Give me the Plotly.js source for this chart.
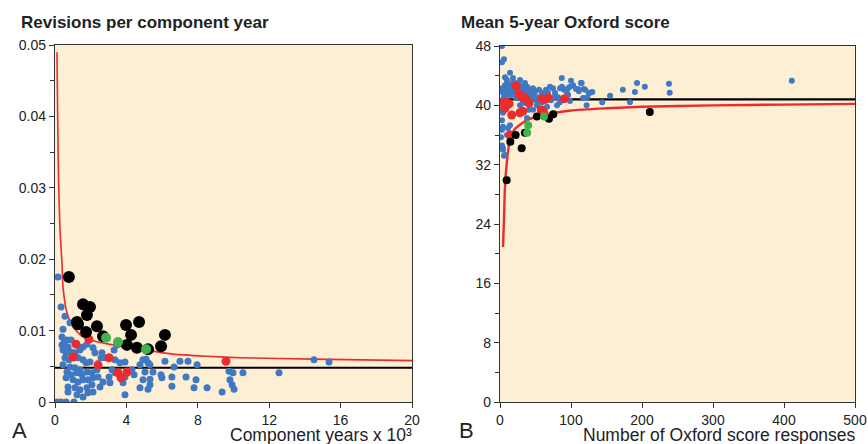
<!DOCTYPE html>
<html>
<head>
<meta charset="utf-8">
<script src="https://cdn.plot.ly/plotly-3.0.1.min.js"></script>
<style>html,body{margin:0;padding:0;background:#fff;}#chart{width:868px;height:444px;}</style>
</head>
<body>
<div id="chart"></div>
<script>
// ---------- Panel A: revisions per component year vs component years (x10^3) ----------
const aBlueX = [0.17,0.34,0.56,0.84,0.45,0.39,0.67,0.50,0.73,0.45,0.90,0.62,1.12,1.40,1.57,1.79,2.13,2.24,2.63,0.56,0.78,1.29,1.57,1.74,1.96,2.80,3.36,3.64,0.45,0.84,1.12,1.40,0.67,0.90,1.23,1.51,1.79,2.07,2.35,3.19,3.36,0.62,1.01,1.29,1.57,1.85,2.13,2.41,2.69,3.03,0.73,1.12,1.40,1.79,2.07,2.52,3.08,1.23,1.57,1.85,2.13,0.11,0.34,0.62,1.06,3.81,3.92,3.92,4.31,4.43,4.76,4.93,5.21,5.32,5.04,5.49,4.93,5.32,5.32,5.21,4.76,5.99,5.94,6.16,6.67,6.55,6.55,7.00,7.45,7.96,7.34,7.90,7.79,8.52,9.36,9.75,9.97,9.80,9.92,10.03,10.53,12.55,14.51,15.35,3.92,0.73,0.39,0.90,3.31,3.47,5.10,2.58];
const aBlueY = [0.0175,0.0133,0.0120,0.0111,0.0102,0.0091,0.0087,0.0083,0.0077,0.0073,0.0070,0.0069,0.0069,0.0073,0.0077,0.0081,0.0076,0.0069,0.0069,0.0062,0.0059,0.0062,0.0059,0.0055,0.0056,0.0062,0.0059,0.0055,0.0052,0.0049,0.0048,0.0045,0.0042,0.0038,0.0041,0.0038,0.0042,0.0041,0.0045,0.0045,0.0041,0.0034,0.0031,0.0028,0.0031,0.0031,0.0034,0.0035,0.0028,0.0035,0.0021,0.0020,0.0017,0.0020,0.0024,0.0021,0.0027,0.0010,0.0007,0.0013,0.0014,0,0,0,0,0.0027,0.0035,0.0056,0.0045,0.0038,0.0052,0.0059,0.0055,0.0052,0.0042,0.0042,0.0031,0.0032,0.0024,0.0018,0.0020,0.0034,0.0038,0.0057,0.0049,0.0035,0.0022,0.0057,0.0057,0.0052,0.0035,0.0031,0.0020,0.0020,0.0014,0.0043,0.0041,0.0031,0.0024,0.0018,0.0041,0.0041,0.0059,0.0056,0.0010,0.0014,0.0080,0.0087,0.0073,0.0080,0.0060,0.0062];
const aRedX = [1.18,1.01,1.90,2.41,3.03,3.53,3.70,4.03,9.58];
const aRedY = [0.0081,0.0063,0.0088,0.0052,0.0062,0.0041,0.0034,0.0042,0.0057];
const aBlackX = [0.78,1.57,1.96,1.79,1.23,1.29,1.74,2.35,2.69,3.98,4.71,4.26,4.03,4.59,5.21,5.94,6.16];
const aBlackY = [0.0175,0.0137,0.0133,0.0122,0.0112,0.0109,0.0098,0.0106,0.0092,0.0108,0.0112,0.0094,0.0080,0.0076,0.0074,0.0078,0.0094];
const aGreenX = [2.86,3.53,5.10];
const aGreenY = [0.0090,0.0084,0.0074];
const aMean = 0.0048;
const aLimitX = [0.11,0.15,0.20,0.28,0.39,0.45,0.67,1.01,1.57,2.41,3.25,4.76,6.61,8.52,10.4,14.5,20];
const aLimitY = [0.049,0.040,0.031,0.0241,0.0195,0.0161,0.0125,0.0105,0.0091,0.0084,0.0080,0.0074,0.0067,0.0064,0.0062,0.0060,0.0058];

// ---------- Panel B: mean 5-year Oxford score vs number of responses ----------
const bBlueX = [2.8,2.8,5.6,7.0,14.1,9.9,14.1,18.3,21.1,23.9,28.2,7.0,11.3,18.3,22.5,26.8,32.4,38.0,4.2,9.9,2.8,4.2,2.8,4.2,2.8,14.1,11.3,9.9,1.4,2.8,4.2,7.0,2.8,4.2,5.6,28.2,32.4,35.2,40.8,38.0,46.5,52.1,59.2,66.2,46.5,53.5,59.2,64.8,70.4,74.6,77.5,81.7,84.5,80.3,87.3,90.1,95.8,100,103,110,115,120,125,130,98.6,117,123,144,155,173,183,190,193,87,84.5,98.6,94,96,107,111,114,118,127,122,204,238,239,411,2.8,4.2,5.6,7.0,8.5,9.9,11.3,12.7,15.5,16.9,18.3,19.7,21.1,22.5,25.4,26.8,28.2,29.6,31.0,33.8,35.2,38.0,39.4,42.3,43.7,46.5,49.3,50.7,54.9,56.3,62.0,67.6,71.8,76.1];
const bBlueY = [48.0,45.8,46.2,43.8,44.4,43.0,42.7,43.1,43.0,42.5,42.3,41.8,41.4,41.8,41.7,41.5,41.8,42.5,40.7,40.3,39.4,39.0,38.0,37.1,36.7,37.3,36.9,36.0,35.7,34.4,34.0,33.3,34.6,34.2,33.2,40.0,40.4,40.3,39.4,38.3,39.4,40.0,40.4,39.8,41.4,41.1,41.7,42.1,42.5,42.3,41.7,41.1,40.4,40.0,42.5,42.1,42.3,43.3,42.7,42.2,43.0,42.1,41.7,41.8,40.6,41.0,41.1,40.4,41.3,42.1,40.4,41.8,43.0,43.7,42.3,42.5,41.8,41.4,42.2,41.9,43.0,42.2,41.7,40.0,42.5,42.9,41.7,43.3,42.3,41.7,41.1,42.7,42.1,43.4,42.5,41.8,41.4,42.2,43.7,42.6,41.9,41.0,42.9,42.2,43.4,41.8,42.6,42.1,43.0,41.7,42.3,41.8,41.1,42.3,41.8,40.7,42.1,40.7,41.4,41.7,40.7,41.1];
const bRedX = [22.5,4,9,7,13,16.5,27,32,36,41,28,32,58,61,59,64,68,91,14];
const bRedY = [42.6,40.3,40.4,39.6,40.2,38.7,41.5,41.0,41.0,40.3,39.0,39.2,39.4,39.2,40.9,40.8,41.0,40.9,36.0];
const bBlackX = [9.4,14.6,22,30.5,35,52,69,75,211];
const bBlackY = [29.9,35.1,36.0,34.2,36.3,38.5,38.2,38.8,39.1];
const bGreenX = [39.7,38.3,62];
const bGreenY = [37.3,36.3,38.5];
const bMean = 40.8;
const bLimitX = [4.2,5.6,7,9.9,14,21,38,56,100,150,200,300,400,500];
const bLimitY = [20.9,24.5,29,32.6,35.4,36.8,38.0,38.6,39.3,39.6,39.8,40.0,40.1,40.2];

const BLUE = '#3f79c4', RED = '#ec2c2c', GREEN = '#3db54a', BLACK = '#000000';
const FONT = 'Liberation Sans, Arial, sans-serif';

function pts(x, y, color, size, xa, ya) {
  return {x: x, y: y, type: 'scatter', mode: 'markers', xaxis: xa, yaxis: ya,
          marker: {color: color, size: size, line: {width: 0}}, hoverinfo: 'skip', showlegend: false};
}
function line(x, y, color, width, xa, ya) {
  return {x: x, y: y, type: 'scatter', mode: 'lines', xaxis: xa, yaxis: ya,
          line: {color: color, width: width, shape: 'spline', smoothing: 0.6}, hoverinfo: 'skip', showlegend: false};
}

const traces = [
  line([0, 20], [aMean, aMean], BLACK, 1.8, 'x', 'y'),
  line(aLimitX, aLimitY, RED, 1.6, 'x', 'y'),
  pts(aBlueX, aBlueY, BLUE, 7, 'x', 'y'),
  pts(aRedX, aRedY, RED, 9, 'x', 'y'),
  pts(aBlackX, aBlackY, BLACK, 12, 'x', 'y'),
  pts(aGreenX, aGreenY, GREEN, 10, 'x', 'y'),
  line([0, 500], [bMean, bMean], BLACK, 2.2, 'x2', 'y2'),
  line(bLimitX, bLimitY, RED, 2.4, 'x2', 'y2'),
  pts(bBlueX, bBlueY, BLUE, 6, 'x2', 'y2'),
  pts(bRedX, bRedY, RED, 9, 'x2', 'y2'),
  pts(bBlackX, bBlackY, BLACK, 8, 'x2', 'y2'),
  pts(bGreenX, bGreenY, GREEN, 8, 'x2', 'y2')
];

const W = 868, H = 444;
const axisCommon = {
  showgrid: false, zeroline: false, showline: true, linecolor: '#333', linewidth: 1.2, mirror: true,
  ticks: 'outside', ticklen: 5, tickwidth: 1, tickcolor: '#333',
  tickfont: {family: FONT, size: 14, color: '#222'}, fixedrange: true
};

const layout = {
  width: W, height: H,
  margin: {l: 0, r: 0, t: 0, b: 0},
  paper_bgcolor: '#ffffff', plot_bgcolor: '#fdefd3',
  showlegend: false,
  xaxis: Object.assign({}, axisCommon, {domain: [55/W, 412/W], range: [0, 20], tick0: 0, dtick: 4, anchor: 'y'}),
  yaxis: Object.assign({}, axisCommon, {domain: [1-402/H, 1-45/H], range: [0, 0.05], tick0: 0, dtick: 0.01, anchor: 'x',
    minor: {dtick: 0.005, ticks: 'outside', ticklen: 4, tickcolor: '#333'}}),
  xaxis2: Object.assign({}, axisCommon, {domain: [500/W, 855/W], range: [0, 500], tick0: 0, dtick: 100, anchor: 'y2'}),
  yaxis2: Object.assign({}, axisCommon, {domain: [1-402/H, 1-46/H], range: [0, 48], tick0: 0, dtick: 8, anchor: 'x2',
    minor: {dtick: 4, ticks: 'outside', ticklen: 4, tickcolor: '#333'}}),
  annotations: [
    {text: 'Revisions per component year', xref: 'paper', yref: 'paper', x: 19/W, y: 1-22/H, xanchor: 'left', yanchor: 'middle',
     showarrow: false, font: {family: FONT, size: 17, color: '#222', weight: 'bold'}},
    {text: 'Mean 5-year Oxford score', xref: 'paper', yref: 'paper', x: 459/W, y: 1-22/H, xanchor: 'left', yanchor: 'middle',
     showarrow: false, font: {family: FONT, size: 17, color: '#222', weight: 'bold'}},
    {text: 'Component years x 10³', xref: 'paper', yref: 'paper', x: 413/W, y: 1-435/H, xanchor: 'right', yanchor: 'middle',
     showarrow: false, borderpad: 0, font: {family: FONT, size: 17.5, color: '#222'}},
    {text: 'Number of Oxford score responses', xref: 'paper', yref: 'paper', x: 857/W, y: 1-435/H, xanchor: 'right', yanchor: 'middle',
     showarrow: false, borderpad: 0, font: {family: FONT, size: 17.5, color: '#222'}},
    {text: 'A', xref: 'paper', yref: 'paper', x: 10/W, y: 1-430/H, xanchor: 'left', yanchor: 'middle',
     showarrow: false, font: {family: FONT, size: 22, color: '#222'}},
    {text: 'B', xref: 'paper', yref: 'paper', x: 457/W, y: 1-430/H, xanchor: 'left', yanchor: 'middle',
     showarrow: false, font: {family: FONT, size: 22, color: '#222'}}
  ]
};

Plotly.newPlot('chart', traces, layout, {displayModeBar: false, staticPlot: true});
</script>
</body>
</html>
